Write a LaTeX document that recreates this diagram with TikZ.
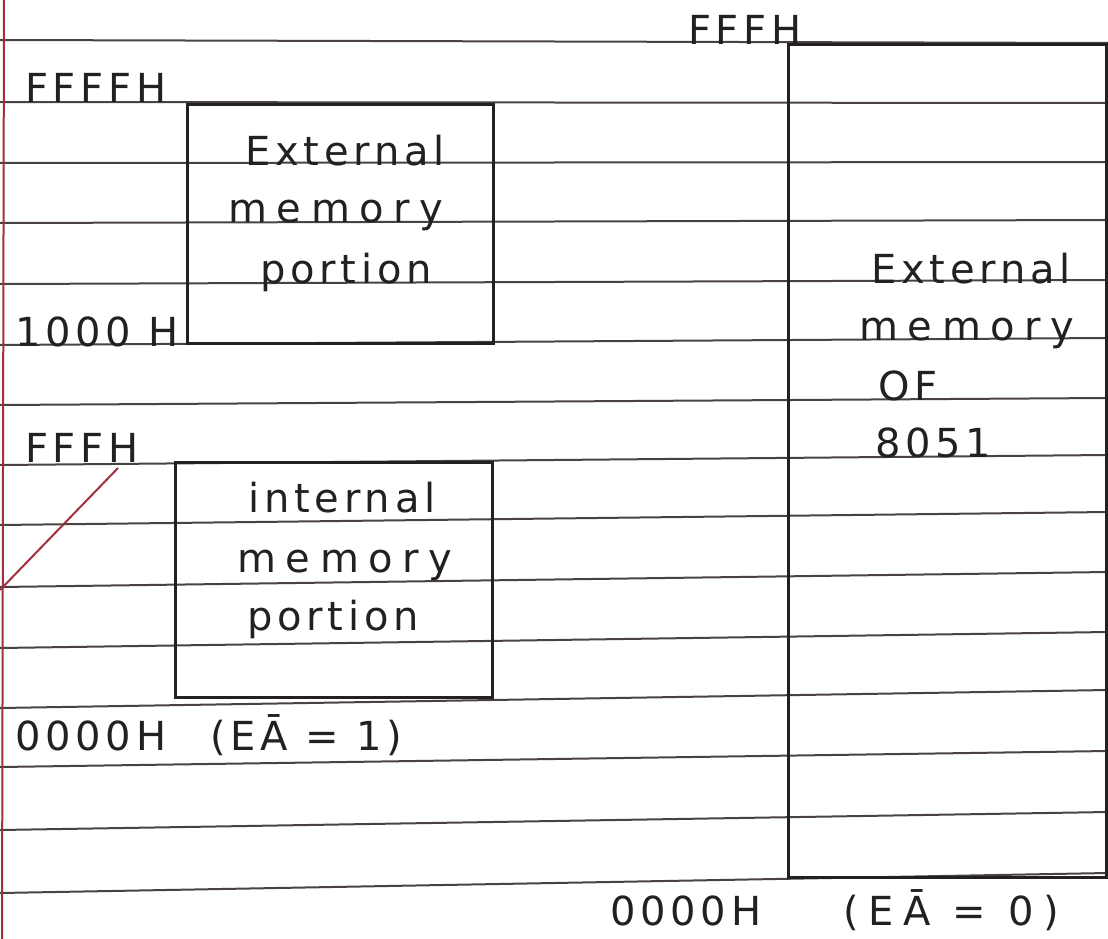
\documentclass[tikz,border=0pt]{standalone}
\usepackage{fontspec}
\setmainfont{DejaVu Sans}[LetterSpace=12]
\definecolor{ink}{HTML}{222020}
\definecolor{rulecol}{HTML}{4A4242}
\definecolor{margin}{HTML}{A0303C}
\tikzset{
  rule/.style={draw=rulecol, line width=2pt},
  membox/.style={draw=ink, line width=3pt, inner sep=0pt},
  lbl/.style={font=\fontsize{40}{44}\selectfont, text=ink, inner sep=0pt, anchor=base west},
  clbl/.style={font=\fontsize{40}{44}\selectfont, text=ink, inner sep=0pt, anchor=base},
  wide/.style={font=\fontsize{40}{44}\selectfont\addfontfeature{LetterSpace=24}},
  redline/.style={draw=margin, line width=2pt}
}
\begin{document}
\begin{tikzpicture}[x=1pt,y=-1pt]
\fill[white] (0,0) rectangle (1108,939);
\useasboundingbox (0,0) rectangle (1108,939);
% ruled lines
\foreach \a/\b in {40/43,102/103,163/162,223/220,284/280,345/338,405/398,465/455,525/512,587/572,648/632,708/690,767/751,830/812,893/873}
  \draw[rule] (0,\a) -- (1108,\b);
% margin
\coordinate (mtop) at (4,0);
\coordinate (mbot) at (2,939);
\draw[redline] (mtop) -- (mbot);
\coordinate (d1) at (0,590);
\coordinate (d2) at (118,468);
\draw[redline] (d1) -- (d2);
% boxes
\node[membox, minimum width=306pt, minimum height=238pt] (extbox) at (340,224) {};
\node[membox, minimum width=317pt, minimum height=235pt] (intbox) at (333.5,579.5) {};
\node[membox, minimum width=318pt, minimum height=832pt] (bigbox) at (947,461) {};
% box texts
\node[clbl] (e1) at (345,165) {External};
\node[clbl, wide] (e2) at (336,222) {memory};
\node[clbl] (e3) at (346,283) {portion};
\node[clbl] (i1) at (342,512) {internal};
\node[clbl, wide] (i2) at (345,572) {memory};
\node[clbl] (i3) at (333,630) {portion};
\node[clbl] (b1) at (971,283) {External};
\node[clbl, wide] (b2) at (967,340) {memory};
\node[lbl] (b3) at (878,400) {OF};
\node[lbl] (b4) at (875,457) {8051};
% address labels
\node[lbl] (a1) at (25,103) {FFFFH};
\node[lbl] (a2) at (15,346) {1000 H};
\node[lbl] (a3) at (25,462) {FFFH};
\node[lbl] (a4) at (15,750) {0000H\hspace{44pt}(E\={A} = 1)};
\node[lbl] (a5) at (688,45) {FFFH};
\node[lbl] (a6) at (610,925) {0000H};
\node[lbl, wide] (a7) at (843,925) {(E\={A} = 0)};
\end{tikzpicture}
\end{document}
